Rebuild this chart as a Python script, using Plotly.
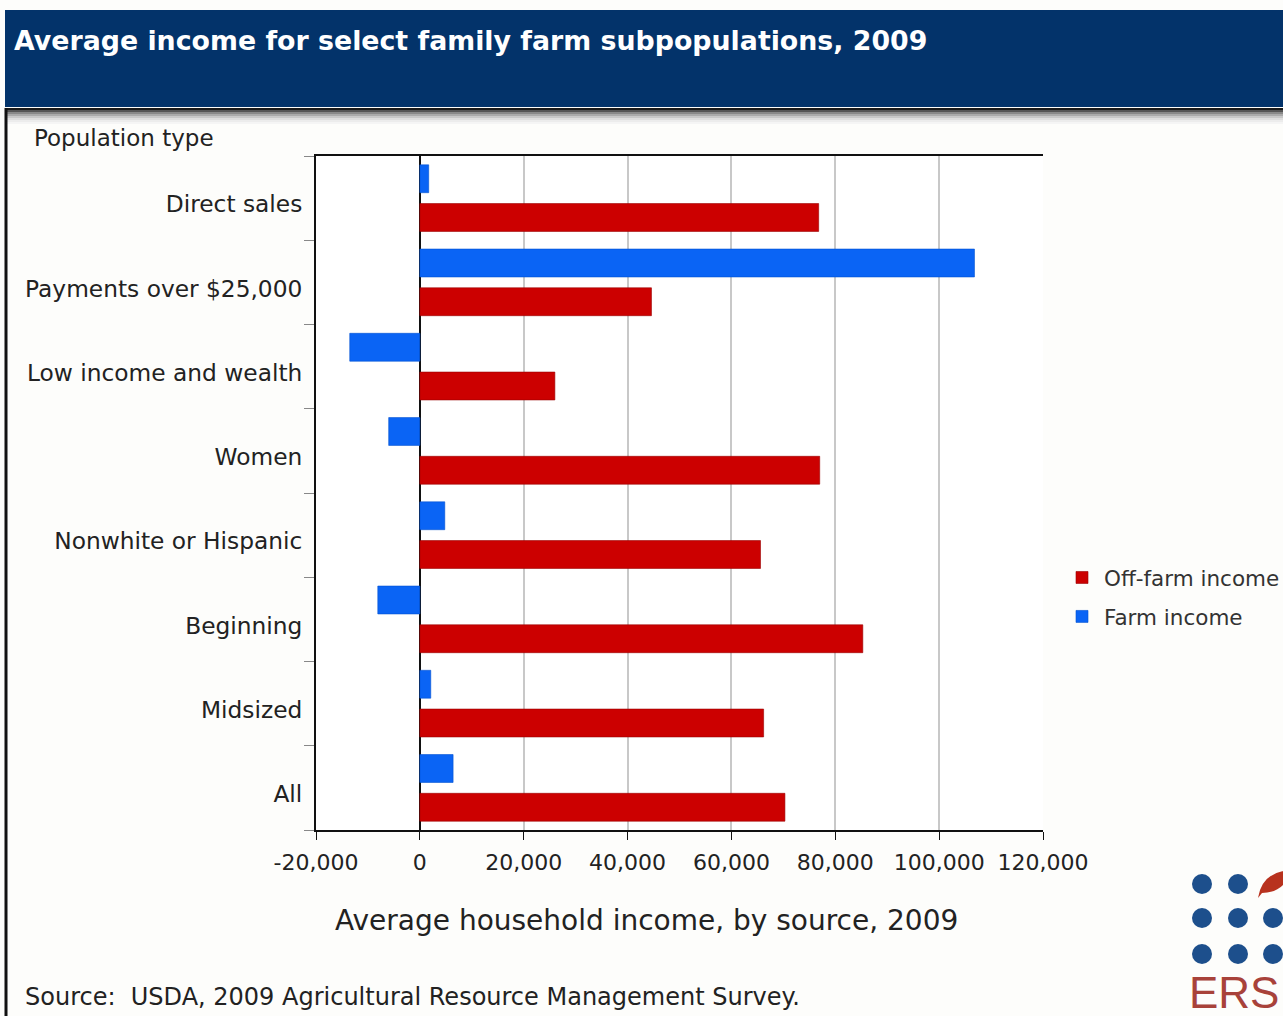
import plotly.graph_objects as go

# ---- data ----
categories = ["Direct sales", "Payments over $25,000", "Low income and wealth", "Women",
              "Nonwhite or Hispanic", "Beginning", "Midsized", "All"]
off_farm_income = [76800, 44600, 26000, 77000, 65600, 85300, 66200, 70300]
farm_income = [1700, 106800, -13500, -6000, 4800, -8100, 2100, 6400]
x_tick_values = [-20000, 0, 20000, 40000, 60000, 80000, 100000, 120000]
x_tick_labels = ["-20,000", "0", "20,000", "40,000", "60,000", "80,000", "100,000", "120,000"]

# bottom-to-top order so that within each group farm income sits above off-farm income
cats_bt = categories[::-1]
off_bt = off_farm_income[::-1]
farm_bt = farm_income[::-1]

W, H = 1283, 1016
L, R, T, B = 316, 1043, 156, 830


def px(x):
    return (x - L) / (R - L)


def py(y):
    return (B - y) / (B - T)


FONT = "DejaVu Sans, Liberation Sans, Arial, sans-serif"
RED = "#cc0000"
BLUE = "#0a64f5"
NAVY = "#03336a"
TXT = "#222222"

fig = go.Figure()
fig.add_trace(go.Bar(
    y=cats_bt, x=off_bt, orientation="h", name="Off-farm income",
    marker=dict(color=RED, line=dict(color="#9a0000", width=0.6)),
    legendgroup="a",
))
fig.add_trace(go.Bar(
    y=cats_bt, x=farm_bt, orientation="h", name="Farm income",
    marker=dict(color=BLUE, line=dict(color="#0050d0", width=0.6)),
    legendgroup="b",
))

shapes = []
# header band
shapes.append(dict(type="rect", xref="paper", yref="paper", x0=px(5), x1=px(W + 5),
                   y0=py(107), y1=py(10), fillcolor=NAVY, line=dict(width=0), layer="below"))
# shadow under header
shadow_cols = ["#1a1a1a", "#555555", "#888888", "#aaaaaa", "#c8c8c8", "#dedede", "#ececec", "#f5f5f5"]
for i, c in enumerate(shadow_cols):
    shapes.append(dict(type="rect", xref="paper", yref="paper", x0=px(5), x1=px(W + 5),
                       y0=py(108 + 2 * i + 2), y1=py(108 + 2 * i), fillcolor=c,
                       line=dict(width=0), layer="below"))
# left frame line
shapes.append(dict(type="line", xref="paper", yref="paper", x0=px(6), x1=px(6),
                   y0=py(108), y1=py(W), line=dict(color="#111111", width=3)))
# ERS logo dots
dot_x = [1202, 1238, 1273]
dot_y = [884, 918, 954]
for j, yy in enumerate(dot_y):
    for i, xx in enumerate(dot_x):
        if j == 0 and i == 2:
            continue
        shapes.append(dict(type="circle", xref="paper", yref="paper",
                           x0=px(xx - 10), x1=px(xx + 10), y0=py(yy + 10), y1=py(yy - 10),
                           fillcolor="#1d4f8c", line=dict(width=0)))
# red leaf
shapes.append(dict(type="path", xref="paper", yref="paper",
                   path=f"M {px(1258)},{py(898)} Q {px(1262)},{py(872)} {px(1290)},{py(870)} "
                        f"Q {px(1286)},{py(892)} {px(1262)},{py(893)} Z",
                   fillcolor="#b8321e", line=dict(width=0)))

annotations = [
    dict(text="<b>Average income for select family farm subpopulations, 2009</b>",
         xref="paper", yref="paper", x=px(12), y=py(40), xanchor="left", yanchor="middle",
         showarrow=False, font=dict(family=FONT, size=26.8, color="white")),
    dict(text="Population type", xref="paper", yref="paper", x=px(32), y=py(138),
         xanchor="left", yanchor="middle", showarrow=False,
         font=dict(family=FONT, size=23, color=TXT)),
    dict(text="Average household income, by source, 2009", xref="paper", yref="paper",
         x=px(646), y=py(920), xanchor="center", yanchor="middle", showarrow=False,
         font=dict(family=FONT, size=28, color=TXT)),
    dict(text="Source:  USDA, 2009 Agricultural Resource Management Survey.", xref="paper",
         yref="paper", x=px(23), y=py(997), xanchor="left", yanchor="middle", showarrow=False,
         font=dict(family=FONT, size=24, color=TXT)),
    dict(text="ERS", xref="paper", yref="paper", x=px(1187), y=py(992), xanchor="left",
         yanchor="middle", showarrow=False,
         font=dict(family="Liberation Sans, Arial, sans-serif", size=44, color="#a8423a")),
]

fig.update_layout(
    width=W, height=H,
    margin=dict(l=L, r=W - R, t=T, b=H - B, pad=0, autoexpand=False),
    paper_bgcolor="#fdfdfb", plot_bgcolor="white",
    barmode="group", bargap=0.08, bargroupgap=0.28,
    font=dict(family=FONT, size=22, color=TXT),
    shapes=shapes, annotations=annotations,
    legend=dict(x=px(1060), y=py(557), xanchor="left", yanchor="top",
                font=dict(family=FONT, size=21.5, color="#333333"),
                bgcolor="rgba(0,0,0,0)", tracegroupgap=8, itemwidth=34),
    showlegend=True,
)
fig.update_xaxes(
    range=[-20000, 120000], tickvals=x_tick_values, ticktext=x_tick_labels,
    showgrid=True, gridcolor="#c8c8c8", gridwidth=1.5,
    zeroline=True, zerolinecolor="#111111", zerolinewidth=2,
    showline=True, linecolor="#111111", linewidth=2, mirror=True,
    ticks="outside", ticklen=8, tickcolor="#111111",
    ticklabelstandoff=4, automargin=False,
    tickfont=dict(family=FONT, size=22, color=TXT),
)
fig.update_yaxes(
    categoryorder="array", categoryarray=cats_bt, tickson="boundaries",
    showgrid=False, showline=True, linecolor="#111111", linewidth=2,
    ticks="outside", ticklen=10, tickcolor="#888888",
    ticklabelstandoff=7, ticklabelshift=6, automargin=False,
    tickfont=dict(family=FONT, size=23.3, color=TXT),
)

fig.write_html("out.html")
